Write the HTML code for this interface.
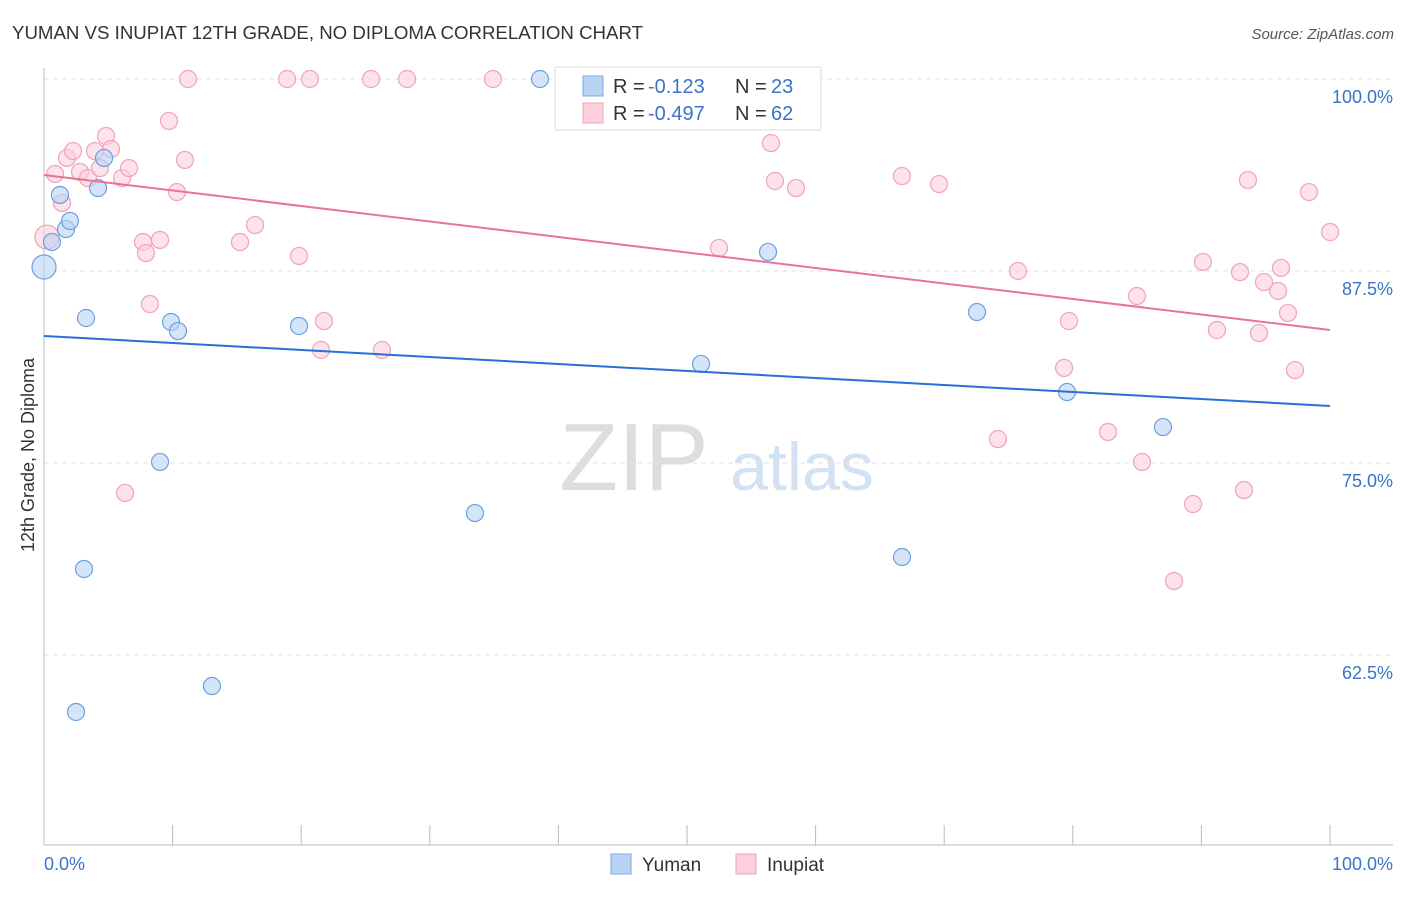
<!DOCTYPE html>
<html><head><meta charset="utf-8"><style>
body{margin:0;background:#fff;font-family:"Liberation Sans",sans-serif;}
svg text{font-family:"Liberation Sans",sans-serif;}
</style></head><body>
<svg id="chart" width="1406" height="892" xmlns="http://www.w3.org/2000/svg">
<text x="12" y="39" font-size="18.3" fill="#333" textLength="631" lengthAdjust="spacingAndGlyphs">YUMAN VS INUPIAT 12TH GRADE, NO DIPLOMA CORRELATION CHART</text>
<text x="1394" y="39" font-size="15" fill="#555" text-anchor="end" font-style="italic">Source: ZipAtlas.com</text>
<g>
<text x="634" y="490" font-size="96" fill="#ddd" text-anchor="middle" font-family="Liberation Serif,serif">ZIP</text>
<text x="802" y="490" font-size="68" fill="#d3e2f3" text-anchor="middle">atlas</text>
</g>
<g id="grid"></g>
<g id="axes"></g>
<g id="marks"></g>
<text transform="translate(34,455) rotate(-90)" font-size="18" fill="#333" text-anchor="middle">12th Grade, No Diploma</text>
<text x="44" y="870" font-size="18" fill="#3b73c8">0.0%</text>
<text x="1393" y="870" font-size="18" fill="#3b73c8" text-anchor="end">100.0%</text>
<g>
<rect x="555" y="67" width="266" height="63" fill="#fff" stroke="#ddd"/>
<rect x="583" y="76" width="20" height="20" fill="#b9d3f5" stroke="#7fa9e0"/>
<rect x="583" y="103" width="20" height="20" fill="#fbcfdc" stroke="#f0a2ba"/>
<text x="613" y="93" font-size="20" fill="#333">R =</text>
<text x="648" y="93" font-size="20" fill="#3b73c8">-0.123</text>
<text x="735" y="93" font-size="20" fill="#333">N =</text>
<text x="771" y="93" font-size="20" fill="#3b73c8">23</text>
<text x="613" y="120" font-size="20" fill="#333">R =</text>
<text x="648" y="120" font-size="20" fill="#3b73c8">-0.497</text>
<text x="735" y="120" font-size="20" fill="#333">N =</text>
<text x="771" y="120" font-size="20" fill="#3b73c8">62</text>
</g>
<g>
<rect x="611" y="854" width="20" height="20" fill="#b9d3f5" stroke="#7fa9e0"/>
<text x="642" y="871" font-size="19" fill="#333">Yuman</text>
<rect x="736" y="854" width="20" height="20" fill="#fbcfdc" stroke="#f0a2ba"/>
<text x="767" y="871" font-size="19" fill="#333">Inupiat</text>
</g>
</svg>
<script>
const yTicks=[100,87.5,75,62.5];
const yTickLabels=["100.0%","87.5%","75.0%","62.5%"];
const xTicks=[0,10,20,30,40,50,60,70,80,90,100];
const yumanX=[0,0.62,1.24,1.71,2.02,4.2,4.67,3.27,9.88,10.42,19.83,9.02,3.11,2.49,13.06,33.51,38.57,51.09,56.3,66.72,72.55,79.55,87.01];
const yumanY=[87.76,89.39,92.45,90.23,90.76,92.9,94.86,84.44,84.18,83.59,83.92,75.07,68.1,58.79,60.48,71.74,100,81.45,88.74,68.88,84.83,79.62,77.34];
const inupiatX=[0.23,0.86,1.4,1.79,2.26,2.8,3.42,3.97,4.35,4.82,5.21,6.07,6.61,6.3,7.7,7.93,8.24,9.02,9.72,10.34,10.96,11.2,15.24,16.41,18.9,19.83,20.68,21.54,21.77,25.43,26.28,28.23,34.91,47.2,52.49,56.53,56.84,58.48,66.72,69.6,74.18,75.74,79.32,79.7,82.74,84.99,85.38,87.87,89.35,90.12,91.21,93,93.31,93.62,94.48,94.87,95.96,96.19,96.73,97.28,98.37,100];
const inupiatY=[89.71,93.82,91.93,94.86,95.31,93.95,93.55,95.31,94.2,96.29,95.44,93.55,94.2,73.05,89.39,88.67,85.35,89.52,97.27,92.64,94.73,100,89.39,90.49,100,88.48,100,82.36,84.24,100,82.36,100,100,100,89,95.83,93.36,92.9,93.68,93.16,76.56,87.5,81.19,84.24,77.02,85.87,75.07,67.32,72.33,88.09,83.66,87.43,73.24,93.42,83.46,86.78,86.2,87.7,84.77,81.05,92.64,90.04];
const yumanTrend=[83.27,78.71];
const inupiatTrend=[93.75,83.66];
const NS="http://www.w3.org/2000/svg";
const xs=v=>44+v*12.86;
const ys=v=>79+(100-v)*15.36;
function mk(parent,tag,attrs){const e=document.createElementNS(NS,tag);for(const k in attrs)e.setAttribute(k,attrs[k]);document.getElementById(parent).appendChild(e);return e;}
yTicks.forEach((t,i)=>{
 const l=mk('grid','line',{x1:44,x2:1393,y1:ys(t),y2:ys(t),stroke:'#e2e2e2','stroke-dasharray':'5,4'});
 
 
 const tx=mk('grid','text',{x:1393,y:ys(t)+24,'font-size':18,fill:'#3b73c8','text-anchor':'end'});
 tx.textContent=yTickLabels[i];
 
 
});
const ya=mk('axes','line',{x1:44,x2:44,y1:68,y2:845,stroke:'#bbb'});


const xa=mk('axes','line',{x1:44,x2:1393,y1:845,y2:845,stroke:'#bbb'});


xTicks.forEach(t=>{
 const l=mk('axes','line',{x1:xs(t),x2:xs(t),y1:825,y2:845,stroke:'#bbb'});
 
 
});
function pts(X,Y,fill,stroke,name){
 X.forEach((x,i)=>{
  const r=(x<0.5)?12:8.5;
  const c=mk('marks','circle',{cx:xs(x),cy:ys(Y[i]),r:r,fill:fill,stroke:stroke,'stroke-width':1.2,'fill-opacity':0.6});
  
  
 });
}
pts(inupiatX,inupiatY,'#fbcfdc','#eea3bb','inupiat-point');
pts(yumanX,yumanY,'#b9d3f5','#6f9fdc','yuman-point');
const t1=mk('marks','line',{x1:xs(0),x2:xs(100),y1:ys(yumanTrend[0]),y2:ys(yumanTrend[1]),stroke:'#2b6fd6','stroke-width':2});


const t2=mk('marks','line',{x1:xs(0),x2:xs(100),y1:ys(inupiatTrend[0]),y2:ys(inupiatTrend[1]),stroke:'#e8739a','stroke-width':2});


</script>
</body></html>
